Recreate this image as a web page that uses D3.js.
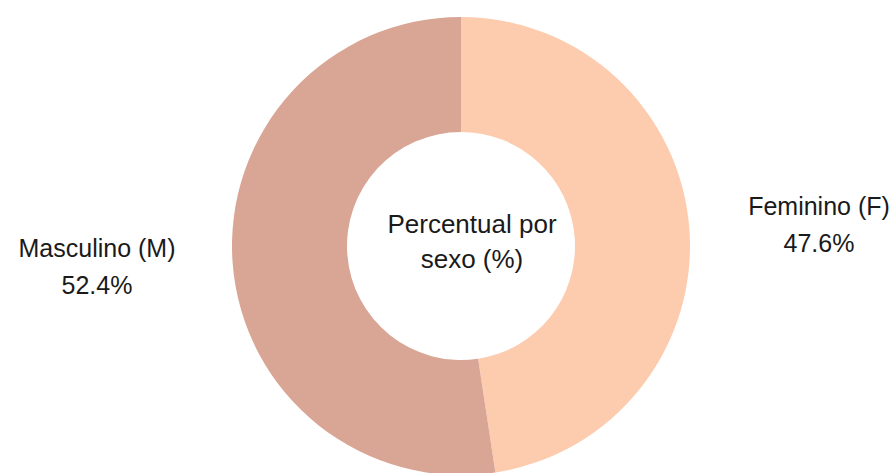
<!DOCTYPE html>
<html>
<head>
<meta charset="utf-8">
<script src="https://cdn.jsdelivr.net/npm/d3@7"></script>
<style>
  html, body { margin: 0; padding: 0; background: #fff; }
  svg { display: block; font-family: "Liberation Sans", Arial, sans-serif; }
</style>
</head>
<body>
<script>
// chart data
const categories = ['Feminino (F)', 'Masculino (M)'];
const values     = [47.6, 52.4];
const colors     = ['#fdcbae', '#d9a594'];
const centerText = ['Percentual por', 'sexo (%)'];

const width  = 896,
      height = 473,
      cx     = 461,
      cy     = 246,
      outerR = 229,
      innerR = 114;

const svg = d3.select('body').append('svg')
  .attr('width', width)
  .attr('height', height);

const data = categories.map((c, i) => ({ name: c, value: values[i], color: colors[i] }));

// slices go clockwise from 12 o'clock, feminino first
const pie = d3.pie().sort(null).value(d => d.value);
const arc = d3.arc().innerRadius(innerR).outerRadius(outerR);

const g = svg.append('g').attr('transform', `translate(${cx},${cy})`);

g.selectAll('path')
  .data(pie(data))
  .join('path')
  .attr('d', arc)
  .attr('fill', d => d.data.color);

// label spots beside the ring
const labelPos = {
  'Feminino (F)':  { x: 819, y: 215 },
  'Masculino (M)': { x: 97,  y: 257 }
};

data.forEach(d => {
  const p = labelPos[d.name];
  const t = svg.append('text')
    .attr('text-anchor', 'middle')
    .attr('font-size', 25)
    .attr('fill', '#1a1a1a');
  t.append('tspan').attr('x', p.x).attr('y', p.y).text(d.name);
  t.append('tspan').attr('x', p.x).attr('y', p.y + 37).text(d.value.toFixed(1) + '%');
});

// text in the hole
const ct = svg.append('text')
  .attr('text-anchor', 'middle')
  .attr('font-size', 26)
  .attr('fill', '#1a1a1a');
centerText.forEach((line, i) => {
  ct.append('tspan').attr('x', 472).attr('y', 233 + i * 35).text(line);
});
</script>
</body>
</html>
